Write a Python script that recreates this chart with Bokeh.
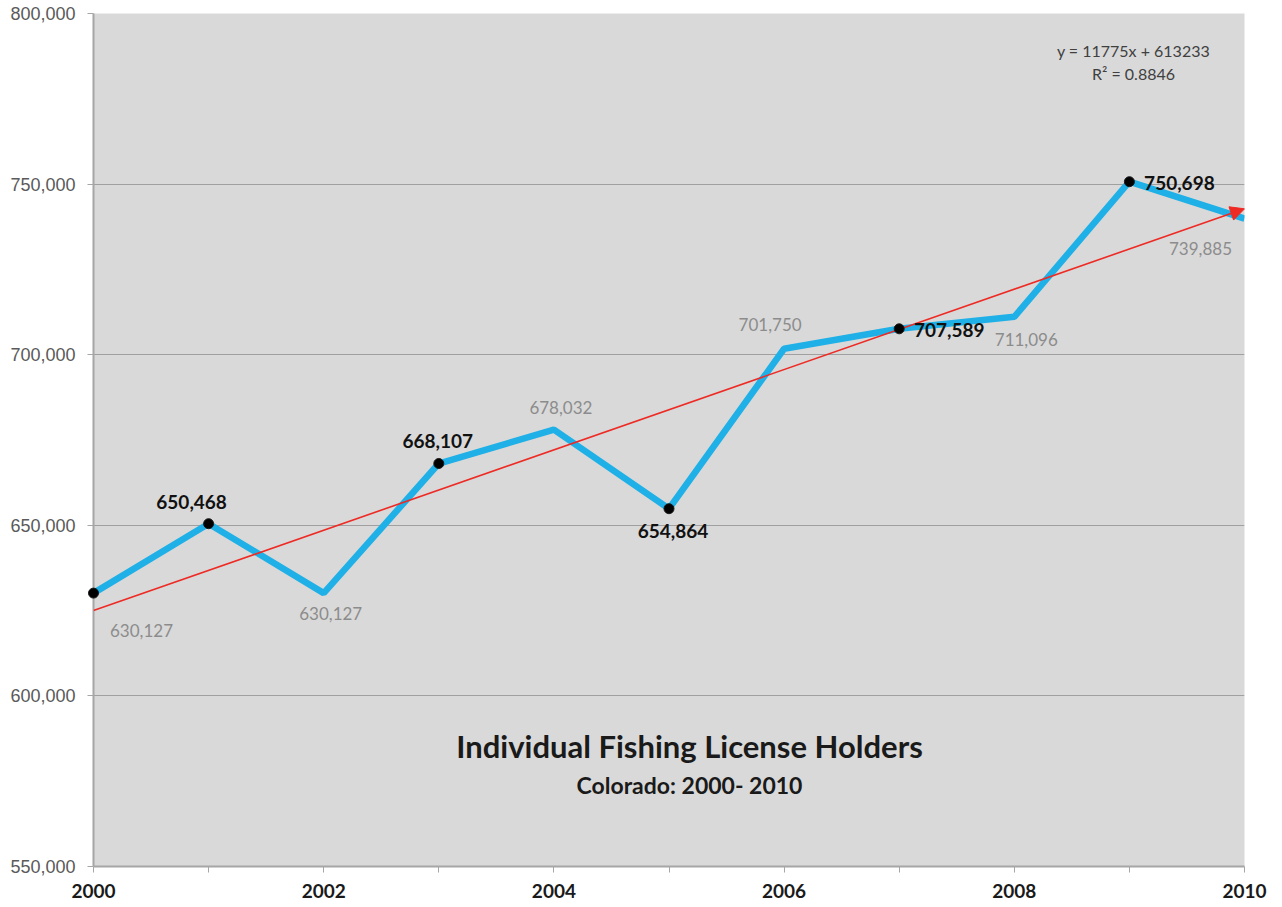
from bokeh.plotting import figure
from bokeh.models import (ColumnDataSource, Range1d, FixedTicker, Label,
                          Arrow, NormalHead, NumeralTickFormatter)
from bokeh.embed import file_html
from bokeh.resources import INLINE

# ---- data ----
years = [2000, 2001, 2002, 2003, 2004, 2005, 2006, 2007, 2008, 2009, 2010]
holders = [630127, 650468, 630127, 668107, 678032, 654864, 701750, 707589, 711096, 750698, 739885]
highlight_years = [2000, 2001, 2003, 2005, 2007, 2009]
trend_slope = 11775
trend_intercept = 613233
r_squared = 0.8846
y_ticks = [550000, 600000, 650000, 700000, 750000, 800000]
x_label_years = [2000, 2002, 2004, 2006, 2008, 2010]

# label placement per year (screen px offsets of label centre from the point)
placement = {
    2000: (48, -37),
    2001: (-17, 22),
    2002: (7, -20),
    2003: (-1, 23),
    2004: (7, 22),
    2005: (4, -22),
    2006: (-14, 24),
    2007: (50, -1),
    2008: (12, -23),
    2009: (50, -1),
    2010: (-44, -30),
}

p = figure(width=1282, height=907, output_backend="svg", toolbar_location=None,
           x_range=Range1d(2000, 2010), y_range=Range1d(550000, 800000),
           min_border_left=93, min_border_right=38, min_border_top=13, min_border_bottom=41)
p.border_fill_color = "white"
p.outline_line_color = None
p.background_fill_color = "#d9d9d9"

# axes
p.xaxis.ticker = FixedTicker(ticks=years)
p.xaxis.major_label_overrides = {y: (str(y) if y in x_label_years else "") for y in years}
p.xaxis.major_label_text_font = "Lato"
p.xaxis.major_label_text_font_style = "bold"
p.xaxis.major_label_text_font_size = "19px"
p.xaxis.major_label_text_color = "#1a1a1a"
p.xaxis.axis_line_color = "#a6a6a6"
p.xaxis.axis_line_width = 2
p.xaxis.major_tick_line_color = "#a6a6a6"
p.xaxis.major_tick_in = 0
p.xaxis.major_tick_out = 6
p.xaxis.minor_tick_line_color = None
p.xaxis.major_label_standoff = 11

p.yaxis.ticker = FixedTicker(ticks=y_ticks)
p.yaxis.formatter = NumeralTickFormatter(format="0,0")
p.yaxis.major_label_text_font = "Liberation Sans"
p.yaxis.major_label_text_font_size = "18px"
p.yaxis.major_label_text_color = "#5a5a5a"
p.yaxis.axis_line_color = "#a6a6a6"
p.yaxis.axis_line_width = 2
p.yaxis.major_tick_line_color = "#a6a6a6"
p.yaxis.major_tick_in = 0
p.yaxis.major_tick_out = 6
p.yaxis.minor_tick_line_color = None
p.yaxis.major_label_standoff = 12

p.xgrid.grid_line_color = None
p.ygrid.ticker = FixedTicker(ticks=y_ticks)
p.ygrid.grid_line_color = "#a0a0a0"
p.ygrid.grid_line_width = 1

# main line
src = ColumnDataSource(dict(x=years, y=holders))
p.line("x", "y", source=src, line_color="#1eb0e6", line_width=6.5)

# trend line with arrow
t0 = years[0]
t1 = years[-1]
ty0 = trend_slope * 1 + trend_intercept
ty1 = trend_slope * len(years) + trend_intercept
p.add_layout(Arrow(x_start=t0, y_start=ty0, x_end=t1, y_end=ty1,
                   line_color="#ee2a24", line_width=1.6,
                   end=NormalHead(size=14, fill_color="#ee2a24", line_color="#ee2a24")))

# highlighted markers (overlay level so the edge marker is not clipped)
hy = [holders[years.index(y)] for y in highlight_years]
p.scatter(highlight_years, hy, size=10, fill_color="black", line_color="#1a1a1a",
          level="overlay")

# data labels
for yr, val in zip(years, holders):
    xo, yo = placement[yr]
    bold = yr in highlight_years and yr != 2000
    p.add_layout(Label(x=yr, y=val, x_offset=xo, y_offset=yo, text=f"{val:,}",
                       text_align="center", text_baseline="middle",
                       text_font="Lato", text_font_size="19px" if bold else "17px",
                       text_font_style="bold" if bold else "normal",
                       text_color="#111111" if bold else "#8c8c8c"))

# equation (screen units relative to the plot frame)
p.add_layout(Label(x=1040, y=816, x_units="screen", y_units="screen",
                   text=f"y = {trend_slope}x + {trend_intercept}", text_align="center",
                   text_baseline="middle", text_font="Lato", text_font_size="16px",
                   text_color="#404040"))
p.add_layout(Label(x=1040, y=793, x_units="screen", y_units="screen",
                   text=f"R\u00b2 = {r_squared}", text_align="center",
                   text_baseline="middle", text_font="Lato", text_font_size="16px",
                   text_color="#404040"))

# in-plot title
p.add_layout(Label(x=596, y=121, x_units="screen", y_units="screen",
                   text="Individual Fishing License Holders", text_align="center",
                   text_baseline="middle", text_font="Lato", text_font_size="31px",
                   text_font_style="bold", text_color="#1a1a1a"))
p.add_layout(Label(x=596, y=82, x_units="screen", y_units="screen",
                   text="Colorado: 2000- 2010", text_align="center",
                   text_baseline="middle", text_font="Lato", text_font_size="23px",
                   text_font_style="bold", text_color="#1a1a1a"))

open("out.html", "w").write(file_html(p, INLINE))
